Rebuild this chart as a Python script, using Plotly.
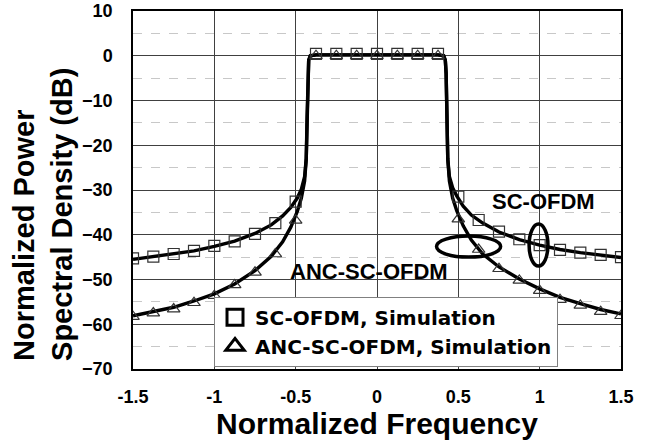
import plotly.graph_objects as go

# ---- data ----
marker_x = [-1.5, -1.375, -1.25, -1.125, -1.0, -0.875, -0.75, -0.625, -0.5,
            -0.375, -0.25, -0.125, 0.0, 0.125, 0.25, 0.375,
            0.5, 0.625, 0.75, 0.875, 1.0, 1.125, 1.25, 1.375, 1.5]
sc_sim = [-45.3, -44.9, -44.3, -43.6, -42.5, -41.5, -39.8, -37.4, -32.6,
          0.4, 0.4, 0.4, 0.4, 0.4, 0.4, 0.4,
          -31.5, -36.7, -39.3, -41.0, -42.3, -43.4, -44.0, -44.5, -45.0]
anc_sim = [-58.3, -57.5, -56.6, -55.2, -53.6, -51.2, -48.4, -44.3, -36.8,
           0.0, 0.0, 0.0, 0.0, 0.0, 0.0, 0.0,
           -36.5, -43.3, -47.6, -50.2, -52.5, -54.5, -55.8, -57.2, -58.1]

line_x = [-1.5, -1.375, -1.25, -1.125, -1.0, -0.875, -0.75, -0.65, -0.58, -0.53,
          -0.49, -0.465, -0.445, -0.435, -0.43, -0.425, -0.42, -0.41,
          -0.375, -0.25, -0.125, 0.0, 0.125, 0.25, 0.375,
          0.41, 0.42, 0.425, 0.43, 0.435, 0.445, 0.465, 0.49,
          0.53, 0.58, 0.65, 0.75, 0.875, 1.0, 1.125, 1.25, 1.375, 1.5]
sc_theory = [-45.5, -44.9, -44.3, -43.6, -42.6, -41.4, -39.7, -37.8, -35.8, -33.9,
             -31.8, -29.8, -27.0, -23.0, -14.0, -4.0, -1.0, 0.0,
             0.2, 0.2, 0.2, 0.2, 0.2, 0.2, 0.2,
             0.0, -1.0, -4.0, -14.0, -23.0, -27.0, -29.5, -31.3,
             -33.6, -35.6, -37.4, -39.4, -41.1, -42.3, -43.3, -44.0, -44.6, -45.1]
anc_theory = [-58.1, -57.2, -56.2, -54.8, -53.2, -51.0, -48.0, -44.8, -41.6, -38.3,
              -34.8, -31.8, -28.0, -23.0, -14.0, -4.0, -1.0, 0.0,
              0.2, 0.2, 0.2, 0.2, 0.2, 0.2, 0.2,
              0.0, -1.0, -4.0, -14.0, -23.0, -28.0, -31.8, -34.6,
              -38.0, -41.2, -44.3, -47.2, -49.9, -52.1, -54.0, -55.4, -56.7, -57.7]

x_ticks = [-1.5, -1, -0.5, 0, 0.5, 1, 1.5]
x_tick_text = ["-1.5", "-1", "-0.5", "0", "0.5", "1", "1.5"]
y_ticks = [10, 0, -10, -20, -30, -40, -50, -60, -70]

FONT = "Liberation Sans, Arial, sans-serif"
BOLD = dict(family=FONT, weight="bold", color="black")

fig = go.Figure()

fig.add_trace(go.Scatter(x=line_x, y=sc_theory, mode="lines",
                         line=dict(color="black", width=3.4), showlegend=False))
fig.add_trace(go.Scatter(x=line_x, y=anc_theory, mode="lines",
                         line=dict(color="black", width=3.4), showlegend=False))
fig.add_trace(go.Scatter(x=marker_x, y=sc_sim, mode="markers", showlegend=False,
                         marker=dict(symbol="square-open", size=11, color="#333",
                                     line=dict(width=1.2, color="#333"))))
fig.add_trace(go.Scatter(x=marker_x, y=anc_sim, mode="markers", showlegend=False,
                         marker=dict(symbol="triangle-up-open", size=11, color="#333",
                                     line=dict(width=1.2, color="#333"))))
# legend entries
fig.add_trace(go.Scatter(x=[None], y=[None], mode="markers", name="SC-OFDM, Simulation",
                         marker=dict(symbol="square-open", size=16, color="black",
                                     line=dict(width=3, color="black"))))
fig.add_trace(go.Scatter(x=[None], y=[None], mode="markers", name="ANC-SC-OFDM, Simulation",
                         marker=dict(symbol="triangle-up-open", size=16, color="black",
                                     line=dict(width=3, color="black"))))

# ellipses
fig.add_shape(type="circle", xref="x", yref="y", x0=0.366, x1=0.76, y0=-45.0, y1=-40.3,
              line=dict(color="black", width=3.5))
fig.add_shape(type="circle", xref="x", yref="y", x0=0.935, x1=1.051, y0=-47.0, y1=-37.6,
              line=dict(color="black", width=3.5))

fig.add_annotation(x=1.024, y=-32.5, xref="x", yref="y", text="SC-OFDM", showarrow=False,
                   font=dict(size=22, **BOLD), xanchor="center", yanchor="middle")
fig.add_annotation(x=-0.048, y=-48.1, xref="x", yref="y", text="ANC-SC-OFDM", showarrow=False,
                   font=dict(size=22, **BOLD), xanchor="center", yanchor="middle")

fig.add_annotation(x=-0.1845, y=0.433, xref="paper", yref="paper",
                   text="Normalized Power<br>Spectral Density (dB)", showarrow=False,
                   textangle=-90, align="left", xanchor="center", yanchor="middle",
                   font=dict(size=29, **BOLD))

fig.update_xaxes(range=[-1.5, 1.5], tickvals=x_ticks, ticktext=x_tick_text,
                 showgrid=True, gridcolor="#404040", gridwidth=1,
                 showline=True, linecolor="black", linewidth=1.5, mirror=True,
                 ticks="", ticklabelstandoff=11, zeroline=False, automargin=False,
                 tickfont=dict(size=18, **BOLD),
                 title=dict(text="Normalized Frequency", font=dict(size=30, **BOLD), standoff=3))
fig.update_yaxes(range=[-70, 10], tickvals=y_ticks,
                 showgrid=True, gridcolor="#404040", gridwidth=1,
                 minor=dict(dtick=5, tick0=0, showgrid=True, gridcolor="#c8c8c8",
                            griddash="dash", gridwidth=1, ticks=""),
                 showline=True, linecolor="black", linewidth=1.5, mirror=True,
                 ticks="", ticklabelstandoff=15, zeroline=False, automargin=False,
                 tickfont=dict(size=18, **BOLD))

fig.update_layout(
    width=652, height=445, autosize=False,
    margin=dict(l=133, r=31, t=11, b=76),
    plot_bgcolor="white", paper_bgcolor="white",
    font=dict(family=FONT, color="black"),
    legend=dict(x=0.166, y=0.006, xanchor="left", yanchor="bottom",
                bgcolor="white", bordercolor="#808080", borderwidth=1,
                font=dict(size=20, family="DejaVu Sans, Liberation Sans, sans-serif",
                          weight="bold", color="black"),
                itemsizing="trace"),
)

fig.write_html("out.html", config={"displayModeBar": False},
               post_script="document.body.style.margin='0px';document.body.style.overflow='hidden';")
